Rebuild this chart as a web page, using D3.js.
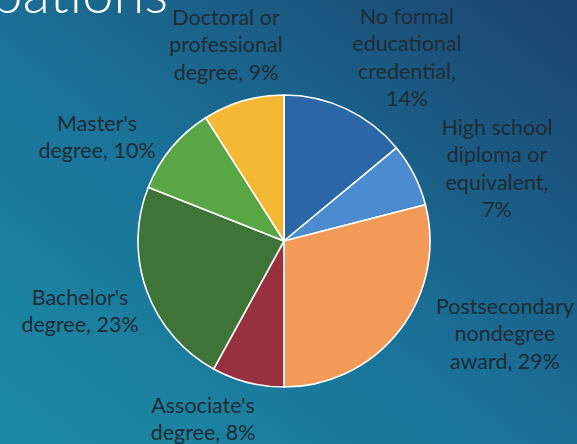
<!DOCTYPE html>
<html>
<head>
<meta charset="utf-8">
<script src="https://cdn.jsdelivr.net/npm/d3@7"></script>
<style>
  html, body { margin: 0; padding: 0; overflow: hidden; background: #1a6f95; }
  svg { display: block; }
</style>
</head>
<body>
<svg id="chart" width="577" height="444"></svg>
<script>
// ---- data ----
const categories = [
  "No formal educational credential",
  "High school diploma or equivalent",
  "Postsecondary nondegree award",
  "Associate's degree",
  "Bachelor's degree",
  "Master's degree",
  "Doctoral or professional degree"
];
const values = [14, 7, 29, 8, 23, 10, 9];
const labelLines = [
  ["No formal", "educational", "credential,", "14%"],
  ["High school", "diploma or", "equivalent,", "7%"],
  ["Postsecondary", "nondegree", "award, 29%"],
  ["Associate's", "degree, 8%"],
  ["Bachelor's", "degree, 23%"],
  ["Master's", "degree, 10%"],
  ["Doctoral or", "professional", "degree, 9%"]
];
const colors = ["#2b67a6", "#4b8bd0", "#f49a59", "#97303f", "#3e7437", "#58a646", "#f5b834"];
const titleText = "Occupations";

// ---- layout ----
const W = 577, H = 444;
const cx = 284, cy = 241, R = 146;
// label first-line baseline per slice
const labelPos = [
  [407, 24], [497, 135], [505, 314], [203, 413], [80, 305], [97, 131], [226, 25]
];
const lineH = 27.3;

const svg = d3.select("#chart");
const defs = svg.append("defs");
const grad = defs.append("linearGradient").attr("id", "bg")
  .attr("x1", "0").attr("y1", "1").attr("x2", "1").attr("y2", "0");
grad.append("stop").attr("offset", "0").attr("stop-color", "#1b8ba3");
grad.append("stop").attr("offset", "0.45").attr("stop-color", "#1a7399");
grad.append("stop").attr("offset", "1").attr("stop-color", "#1b436e");
svg.append("rect").attr("width", W).attr("height", H).attr("fill", "url(#bg)");

// title (partially cut off at top)
svg.append("text")
  .attr("x", 168).attr("y", 13)
  .attr("text-anchor", "end")
  .attr("font-family", "Lato, 'Open Sans', sans-serif")
  .attr("font-weight", 300)
  .attr("font-size", 56)
  .attr("fill", "#ffffff")
  .text(titleText);

const pie = d3.pie().sort(null).value(d => d);
const arc = d3.arc().innerRadius(0).outerRadius(R);
const arcs = pie(values);

const g = svg.append("g").attr("transform", `translate(${cx},${cy})`);
g.selectAll("path").data(arcs).join("path")
  .attr("d", arc)
  .attr("fill", (d, i) => colors[i])
  .attr("stroke", "#ffffff")
  .attr("stroke-width", 1.6)
  .attr("stroke-linejoin", "round");

const lab = svg.append("g")
  .attr("font-family", "Lato, 'Open Sans', sans-serif")
  .attr("font-size", 21.5)
  .attr("fill", "#1f2c35")
  .attr("text-anchor", "middle");

labelLines.forEach((lines, i) => {
  const t = lab.append("text")
    .attr("x", labelPos[i][0])
    .attr("y", labelPos[i][1]);
  lines.forEach((ln, j) => {
    t.append("tspan")
      .attr("x", labelPos[i][0])
      .attr("y", labelPos[i][1] + j * lineH)
      .text(ln);
  });
});
</script>
</body>
</html>
